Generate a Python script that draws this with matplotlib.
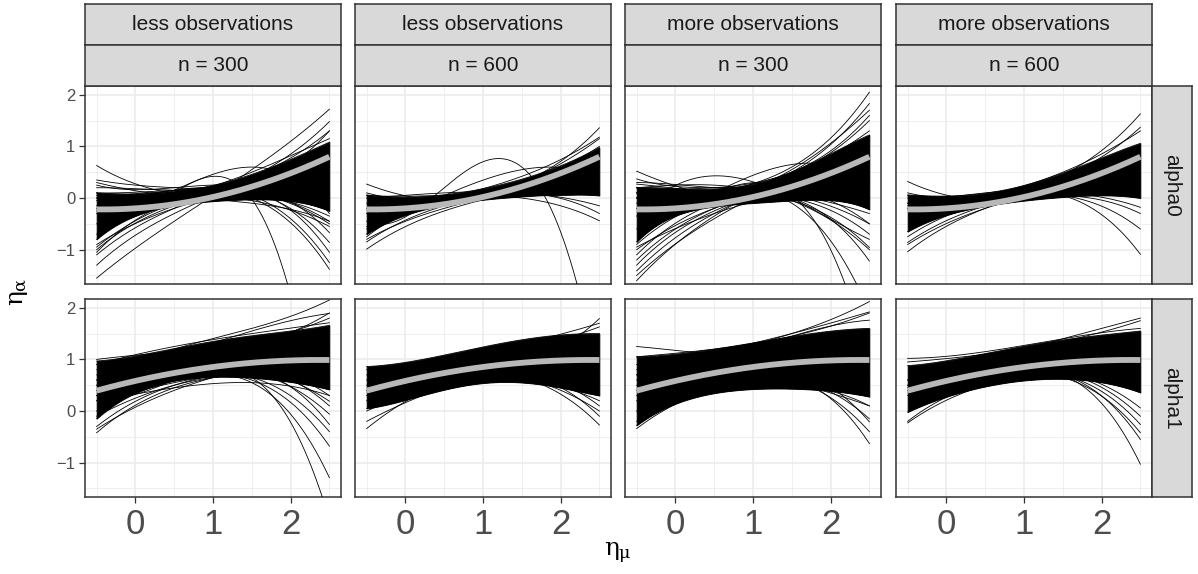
import numpy as np
import matplotlib
matplotlib.use('Agg')
import matplotlib.pyplot as plt
from matplotlib.ticker import FixedLocator

plt.rcParams['font.family'] = ['Liberation Sans', 'DejaVu Sans']
plt.rcParams['mathtext.fontset'] = 'custom'
plt.rcParams['mathtext.rm'] = 'DejaVu Serif'
plt.rcParams['mathtext.it'] = 'DejaVu Serif'

# ---------------- data ----------------
col_strip_top = ['less observations', 'less observations', 'more observations', 'more observations']
col_strip_n = ['n = 300', 'n = 600', 'n = 300', 'n = 600']
row_strip = ['alpha0', 'alpha1']
x_ticks = [0, 1, 2]
y_ticks = [-1, 0, 1, 2]
x_label = r'$\eta_\mu$'
y_label = r'$\eta_\alpha$'

band_x = [-0.5, 0.0, 0.5, 1.0, 1.5, 2.0, 2.5]
curve_x = [-0.5, 0.5, 1.5, 2.5]

truth_alpha0 = [-0.22, -0.20, -0.12, 0.02, 0.22, 0.48, 0.80]
truth_alpha1 = [0.40, 0.58, 0.73, 0.85, 0.94, 0.99, 0.98]

# dense core of the estimated curves (lower / upper edge at band_x)
band_a0_less300_lo = [-0.80, -0.34, -0.16, -0.05, -0.03, -0.06, -0.25]
band_a0_less300_hi = [0.10, 0.07, 0.13, 0.25, 0.44, 0.76, 1.08]
band_a0_less600_lo = [-0.70, -0.33, -0.14, -0.04, 0.04, 0.06, 0.05]
band_a0_less600_hi = [0.06, 0.02, 0.06, 0.18, 0.37, 0.62, 0.98]
band_a0_more300_lo = [-0.85, -0.34, -0.17, -0.10, -0.04, -0.05, -0.22]
band_a0_more300_hi = [0.20, 0.18, 0.18, 0.27, 0.50, 0.86, 1.22]
band_a0_more600_lo = [-0.65, -0.33, -0.16, -0.05, 0.02, 0.05, 0.00]
band_a0_more600_hi = [0.06, 0.04, 0.09, 0.24, 0.49, 0.77, 1.06]
band_a1_less300_lo = [-0.15, 0.36, 0.57, 0.66, 0.66, 0.55, 0.42]
band_a1_less300_hi = [0.97, 1.06, 1.22, 1.34, 1.46, 1.55, 1.66]
band_a1_less600_lo = [0.05, 0.22, 0.40, 0.55, 0.55, 0.45, 0.30]
band_a1_less600_hi = [0.86, 0.95, 1.07, 1.25, 1.38, 1.47, 1.50]
band_a1_more300_lo = [-0.28, 0.15, 0.33, 0.43, 0.44, 0.38, 0.28]
band_a1_more300_hi = [1.05, 1.10, 1.20, 1.32, 1.44, 1.55, 1.60]
band_a1_more600_lo = [-0.02, 0.28, 0.47, 0.59, 0.63, 0.55, 0.36]
band_a1_more600_hi = [0.88, 0.97, 1.12, 1.25, 1.38, 1.47, 1.55]

# individual visible curves (values at curve_x)
curves_a0_less300 = [
    [0.63, 0.08, -0.10, -0.45], [0.35, 0.20, 0.10, -0.25], [-0.30, 0.15, 0.60, -0.30],
    [-1.55, -0.45, 0.55, 1.72], [-1.30, -0.30, 0.40, 1.48], [-1.10, -0.20, 0.40, 1.30],
    [0.00, 0.15, 0.00, -1.38], [-0.15, 0.15, 0.05, -1.25], [-0.25, 0.10, 0.15, -1.05],
    [0.05, 0.10, 0.10, -0.86], [-0.20, 0.10, -0.02, -5.80], [0.10, 0.05, 0.50, 1.15],
    [-0.95, -0.10, 0.30, 0.70], [0.25, 0.20, 0.20, -0.67], [-0.05, 0.12, 0.30, 1.30],
    [-0.70, 0.00, 0.10, -0.50], [-1.00, -0.15, 0.30, 1.00], [-0.90, -0.20, 0.20, 0.60],
    [-1.05, -0.05, 0.35, 0.90], [0.00, 0.05, -0.05, -0.55], [0.10, 0.15, 0.10, -0.45],
    [0.20, 0.15, 0.25, 0.90], [0.30, 0.05, 0.20, 1.00], [-0.50, -0.05, 0.05, -0.35],
]
curves_a0_less600 = [
    [0.27, -0.05, 0.15, 0.85], [-0.99, -0.25, 0.15, 0.60], [-0.45, 0.20, 0.60, -3.60],
    [-0.20, -0.05, 0.30, 1.36], [-0.30, 0.00, 0.42, 1.18], [0.05, 0.05, 0.00, -0.44],
    [-0.10, 0.00, 0.10, -0.30], [-0.55, 0.05, 0.55, 0.40], [-0.85, -0.15, 0.25, 0.90],
    [-0.60, -0.10, 0.30, 1.00], [0.00, 0.10, 0.10, -0.15], [-0.80, -0.20, 0.20, 0.80],
    [0.10, -0.05, 0.30, 1.15], [-0.75, -0.05, 0.05, 0.10],
]
curves_a0_more300 = [
    [-0.20, 0.10, 0.60, 2.05], [-0.10, 0.00, 0.50, 1.83], [0.00, 0.05, 0.45, 1.50],
    [0.52, 0.05, 0.10, 0.90], [0.37, 0.20, 0.15, -0.50], [-0.35, 0.43, 0.00, -0.80],
    [-0.60, 0.10, 0.65, 0.30], [-1.60, -0.35, 0.45, 1.20], [-1.41, -0.30, 0.35, 1.00],
    [-1.20, -0.20, 0.30, 0.90], [-1.00, -0.20, 0.20, 0.50], [0.10, 0.10, -0.05, -0.96],
    [0.00, 0.15, 0.05, -0.50], [-0.20, 0.10, 0.05, -3.20], [0.00, 0.15, -0.10, -2.20],
    [0.10, 0.10, 0.00, -1.22], [0.30, 0.20, 0.30, 1.20], [-1.30, -0.25, 0.30, 1.10],
    [-1.50, -0.40, 0.40, 1.30], [-1.10, -0.10, 0.30, 0.70], [-0.95, -0.30, 0.10, 0.30],
    [0.10, 0.20, 0.50, 1.60], [0.20, 0.00, 0.55, 1.70], [0.20, 0.10, 0.00, -0.70],
    [0.20, 0.25, -0.05, -1.00], [0.27, 0.10, 0.05, 0.40], [-0.90, -0.05, 0.05, -0.30],
]
curves_a0_more600 = [
    [0.32, -0.05, 0.10, 0.55], [-1.04, -0.20, 0.30, 0.95], [-0.86, -0.15, 0.25, 0.80],
    [-0.20, 0.00, 0.45, 1.63], [-0.15, 0.00, 0.40, 1.37], [0.00, 0.05, 0.05, -0.60],
    [0.05, 0.10, 0.05, -1.09], [-0.10, 0.05, 0.10, -0.18], [-0.90, -0.20, 0.20, 0.60],
    [0.10, 0.00, 0.05, -0.30], [-0.10, 0.05, 0.50, 1.30], [-0.75, -0.10, 0.10, 0.20],
]
curves_a1_less300 = [
    [0.60, 1.20, 1.60, 2.15], [0.80, 1.10, 1.55, 1.89], [0.90, 1.25, 1.50, 1.71],
    [-0.42, 0.45, 0.75, 0.90], [-0.30, 0.50, 0.80, 1.00], [0.50, 0.80, 0.80, 0.19],
    [0.40, 0.75, 0.75, -0.06], [0.30, 0.70, 0.80, -0.26], [0.60, 0.70, 0.60, -0.68],
    [0.50, 0.65, 0.55, -1.29], [0.30, 0.60, 0.65, -2.10], [0.20, 0.45, 0.55, 0.30],
    [-0.35, 0.40, 0.85, 1.20], [-0.10, 0.50, 0.70, 0.50], [0.70, 0.90, 0.90, 0.30],
    [0.30, 0.75, 0.85, 0.10], [0.90, 1.10, 1.30, 1.90], [0.20, 0.55, 0.75, 0.60],
    [1.00, 1.15, 1.35, 1.80], [0.00, 0.60, 0.65, -0.40],
]
curves_a1_less600 = [
    [-0.34, 0.55, 0.90, 0.90], [0.20, 0.60, 0.90, 1.79], [0.50, 0.90, 1.20, 1.63],
    [0.60, 0.75, 0.65, -0.27], [0.40, 0.70, 0.75, 0.10], [-0.20, 0.45, 0.75, 0.60],
    [0.80, 1.00, 1.30, 1.70], [0.30, 0.60, 0.70, -0.10], [0.70, 0.80, 0.65, 0.00],
    [0.00, 0.50, 0.60, 0.20],
]
curves_a1_more300 = [
    [1.25, 1.10, 1.05, 1.30], [0.70, 1.10, 1.50, 2.12], [0.90, 1.15, 1.50, 1.92],
    [0.80, 1.00, 1.45, 1.76], [-0.34, 0.45, 0.80, 1.10], [0.50, 0.80, 0.80, -0.21],
    [0.30, 0.60, 0.65, -0.63], [0.60, 0.75, 0.55, 0.10], [-0.20, 0.50, 0.70, 0.60],
    [1.05, 1.20, 1.45, 1.90], [0.70, 0.75, 0.65, -0.15], [0.40, 0.65, 0.60, -0.40],
    [0.00, 0.55, 0.80, 1.30], [0.20, 0.40, 0.50, 0.10],
]
curves_a1_more600 = [
    [1.02, 1.15, 1.40, 1.60], [0.60, 1.00, 1.40, 1.80], [-0.23, 0.50, 0.80, 1.00],
    [0.50, 0.75, 0.75, 0.06], [0.40, 0.70, 0.70, -0.26], [0.50, 0.70, 0.65, -0.42],
    [0.30, 0.65, 0.70, -1.03], [-0.20, 0.55, 0.85, 1.30], [0.95, 1.10, 1.35, 1.75],
    [0.60, 0.80, 0.75, -0.10], [0.45, 0.70, 0.70, -0.55],
]

bands = [
    [(band_a0_less300_lo, band_a0_less300_hi), (band_a0_less600_lo, band_a0_less600_hi),
     (band_a0_more300_lo, band_a0_more300_hi), (band_a0_more600_lo, band_a0_more600_hi)],
    [(band_a1_less300_lo, band_a1_less300_hi), (band_a1_less600_lo, band_a1_less600_hi),
     (band_a1_more300_lo, band_a1_more300_hi), (band_a1_more600_lo, band_a1_more600_hi)],
]
curves = [
    [curves_a0_less300, curves_a0_less600, curves_a0_more300, curves_a0_more600],
    [curves_a1_less300, curves_a1_less600, curves_a1_more300, curves_a1_more600],
]
truths = [truth_alpha0, truth_alpha1]

# ---------------- layout ----------------
W, H = 1198, 574
fig = plt.figure(figsize=(W / 100, H / 100), dpi=100)

col_left = [85, 355, 625, 896]
panel_w = 256
row_top = [86, 299]
panel_h = 198
strip_rows = [(4, 45), (45, 86)]
rstrip_x = (1152, 1192)

border = '#333333'
gridc = '#EBEBEB'
xlim = (-0.65, 2.65)
ylim = (-1.665, 2.17)
xx = np.linspace(-0.5, 2.5, 300)


def fax(x0, ytop, w, h):
    return fig.add_axes([x0 / W, 1 - (ytop + h) / H, w / W, h / H])


def smooth(xs, ys, deg):
    return np.polyval(np.polyfit(xs, ys, deg), xx)


for r in range(2):
    for c in range(4):
        ax = fax(col_left[c], row_top[r], panel_w, panel_h)
        ax.set_xlim(*xlim)
        ax.set_ylim(*ylim)
        ax.xaxis.set_major_locator(FixedLocator(x_ticks))
        ax.yaxis.set_major_locator(FixedLocator(y_ticks))
        ax.xaxis.set_minor_locator(FixedLocator([-0.5, 0.5, 1.5, 2.5]))
        ax.yaxis.set_minor_locator(FixedLocator([-1.5, -0.5, 0.5, 1.5]))
        ax.grid(which='major', color=gridc, lw=1.1, zorder=0)
        ax.grid(which='minor', color=gridc, lw=0.55, zorder=0)
        ax.set_axisbelow(True)
        for s in ax.spines.values():
            s.set_color(border)
            s.set_linewidth(1.1)
        ax.tick_params(which='minor', length=0)
        ax.tick_params(which='major', color=border, width=0.9, length=4,
                       labelcolor='#4D4D4D')
        if c == 0:
            ax.tick_params(axis='y', labelsize=12, pad=3)
        else:
            ax.tick_params(axis='y', length=0, labelleft=False)
        if r == 1:
            ax.tick_params(axis='x', labelsize=25, pad=4)
        else:
            ax.tick_params(axis='x', length=0, labelbottom=False)

        lo, hi = bands[r][c]
        ylo = smooth(band_x, lo, 4)
        yhi = smooth(band_x, hi, 4)
        ax.fill_between(xx, ylo, yhi, color='black', lw=0.6, zorder=2)
        ax.plot(xx, ylo, color='black', lw=0.6, zorder=2)
        ax.plot(xx, yhi, color='black', lw=0.6, zorder=2)
        for cv in curves[r][c]:
            ax.plot(xx, smooth(curve_x, cv, 3), color='black', lw=0.6, zorder=3)
        ax.plot(xx, smooth(band_x, truths[r], 2), color='#B8B8B8', lw=4.2,
                solid_capstyle='butt', zorder=4)

# top strips
for c in range(4):
    for k, (y0, y1) in enumerate(strip_rows):
        sa = fax(col_left[c], y0, panel_w, y1 - y0)
        sa.set_facecolor('#D9D9D9')
        sa.set_xticks([])
        sa.set_yticks([])
        for s in sa.spines.values():
            s.set_color(border)
            s.set_linewidth(1.1)
        txt = col_strip_top[c] if k == 0 else col_strip_n[c]
        sa.text(0.5, 0.5, txt, ha='center', va='center', fontsize=15,
                color='#1A1A1A', transform=sa.transAxes)

# right strips
for r in range(2):
    sa = fax(rstrip_x[0], row_top[r], rstrip_x[1] - rstrip_x[0], panel_h)
    sa.set_facecolor('#D9D9D9')
    sa.set_xticks([])
    sa.set_yticks([])
    for s in sa.spines.values():
        s.set_color(border)
        s.set_linewidth(1.1)
    sa.text(0.5, 0.5, row_strip[r], ha='center', va='center', fontsize=15,
            rotation=-90, color='#1A1A1A', transform=sa.transAxes)

fig.text(618 / W, 1 - 553 / H, x_label, ha='center', va='center', fontsize=18)
fig.text(18 / W, 1 - 292 / H, y_label, ha='center', va='center', fontsize=18,
         rotation=90)

fig.savefig('out.png', dpi=100)
